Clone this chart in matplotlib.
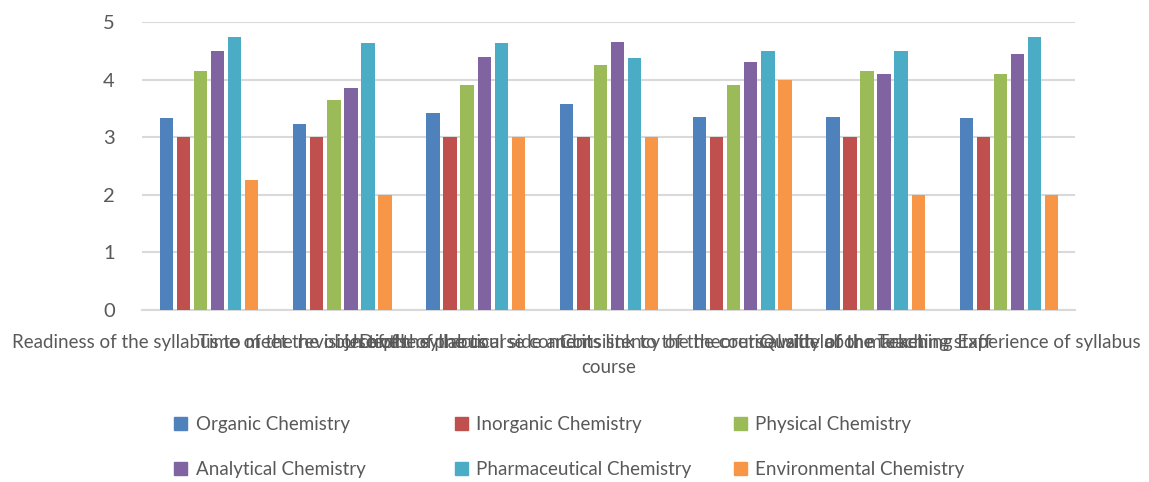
import numpy as np
import matplotlib.pyplot as plt
from matplotlib.patches import Patch

plt.rcParams['font.family'] = ['Lato', 'DejaVu Sans']

categories = [
    "Readiness of the syllabus to meet the objectives",
    "Time of the revision of the syllabus",
    "Depth of the course content",
    "Use of the practical side and its link to the theoretical side of the\ncourse",
    "Consistency of the course with labor market",
    "Quality of the teaching staff",
    "Teaching Experience of syllabus",
]
series = ["Organic Chemistry", "Inorganic Chemistry", "Physical Chemistry",
          "Analytical Chemistry", "Pharmaceutical Chemistry", "Environmental Chemistry"]
organic = [3.33, 3.23, 3.43, 3.57, 3.36, 3.36, 3.33]
inorganic = [3.0, 3.0, 3.0, 3.0, 3.0, 3.0, 3.0]
physical = [4.15, 3.65, 3.9, 4.25, 3.9, 4.15, 4.1]
analytical = [4.5, 3.85, 4.4, 4.65, 4.3, 4.1, 4.45]
pharmaceutical = [4.75, 4.63, 4.63, 4.37, 4.5, 4.5, 4.75]
environmental = [2.25, 2.0, 3.0, 3.0, 4.0, 2.0, 2.0]
colors = ["#4F81BD", "#C0504D", "#9BBB59", "#8064A2", "#4BACC6", "#F79646"]

values = [organic, inorganic, physical, analytical, pharmaceutical, environmental]

fig = plt.figure(figsize=(11.49, 4.82), dpi=100)
ax = fig.add_axes([0.124, 0.357, 0.812, 0.597])

x = np.arange(len(categories))
step = 0.128
width = 0.1
for i, vals in enumerate(values):
    ax.bar(x + (i - 2.5) * step, vals, width, color=colors[i], label=series[i], zorder=3)

ax.set_xlim(-0.5, len(categories) - 0.5)
ax.set_ylim(0, 5)
ax.set_yticks(range(6))
ax.yaxis.grid(True, color="#D9D9D9", linewidth=1.5, zorder=0)
for s in ["top", "right", "left"]:
    ax.spines[s].set_visible(False)
ax.spines["bottom"].set_color("#D9D9D9")
ax.spines["bottom"].set_linewidth(1.5)
ax.tick_params(axis="both", length=0, colors="#595959")
ax.tick_params(axis="y", labelsize=14.5, pad=20)
ax.set_xticks(x)
ax.set_xticklabels(categories, fontsize=13.5, color="#595959", linespacing=1.6)
ax.tick_params(axis="x", pad=17)

# legend: one column per legend so the spacing matches
col_x = [0.137, 0.381, 0.624]
for c in range(3):
    hs = [Patch(color=colors[c]), Patch(color=colors[c + 3])]
    ls = [series[c], series[c + 3]]
    fig.legend(hs, ls, loc="upper left", bbox_to_anchor=(col_x[c], 0.171), frameon=False,
               fontsize=13.5, labelcolor="#595959", handlelength=0.7, handleheight=0.7,
               handletextpad=0.45, labelspacing=1.45)

fig.savefig("out.png", dpi=100)
